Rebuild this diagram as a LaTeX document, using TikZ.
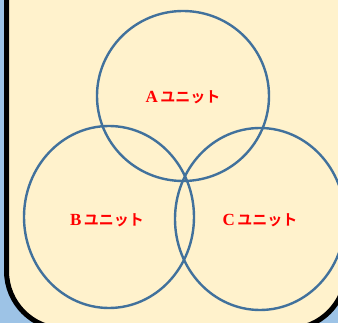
\documentclass[tikz,border=0pt]{standalone}
\usepackage{fontspec}
\setmainfont{Liberation Serif}
\newfontfamily\jpfont{Noto Sans CJK JP}[BoldFont={* Bold}]
\definecolor{bgblue}{HTML}{9DC3E6}
\definecolor{cream}{HTML}{FFF2CC}
\definecolor{ringblue}{HTML}{41719C}
\definecolor{lblred}{HTML}{FF0000}
\tikzset{
  ring/.style={draw=ringblue, line width=2.4pt},
  unitlabel/.style={text=lblred, font=\fontsize{15}{17}\selectfont\bfseries, inner sep=0pt}
}
\newcommand{\unitletter}[1]{{\fontsize{17}{19}\selectfont #1}}
\begin{document}
\begin{tikzpicture}[x=1pt,y=-1pt]
\useasboundingbox (0,0) rectangle (338,323);
\clip (0,0) rectangle (338,323);
\fill[bgblue] (0,0) rectangle (338,323);
\draw[fill=cream, line width=5pt, rounded corners=58pt] (6.5,-80) rectangle (346,329);
\draw[ring] (183,96) ellipse [x radius=86, y radius=85];
\draw[ring] (109,217) ellipse [x radius=85, y radius=91];
\draw[ring] (260,219) ellipse [x radius=85, y radius=91];
\node[unitlabel] (a) at (183,97) {\unitletter{A}\,{\jpfont ユニット}};
\node[unitlabel] (b) at (107,220) {\unitletter{B}\,{\jpfont ユニット}};
\node[unitlabel] (c) at (260,220) {\unitletter{C}\,{\jpfont ユニット}};
\end{tikzpicture}
\end{document}
